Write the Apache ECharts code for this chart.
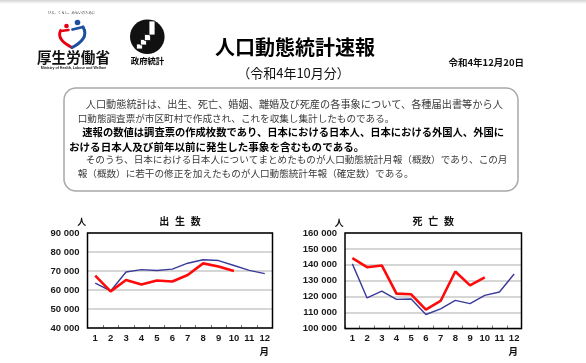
<!DOCTYPE html>
<html>
<head>
<meta charset="utf-8">
<script src="https://cdn.jsdelivr.net/npm/echarts@6/dist/echarts.min.js"></script>
<style>
html,body{margin:0;padding:0;background:#fff;}
#c{width:586px;height:363px;}
</style>
</head>
<body>
<div id="c"></div>
<script>
// ---- data ----
const months = ['1','2','3','4','5','6','7','8','9','10','11','12'];
const birthsPrev = [63600,59500,69500,70700,70300,71000,74100,75900,75500,72900,70300,68600];
const birthsCurr = [67600,59300,65300,62900,65000,64500,67900,74000,72400,70000];
const deathsPrev = [140600,119200,123500,118300,118500,108800,112300,117700,115600,120800,122900,134200];
const deathsCurr = [144200,138500,139600,121900,121500,111900,117300,135800,127100,132100];
const birthAxis = {min:40000, max:90000, interval:10000};
const deathAxis = {min:100000, max:160000, interval:10000};
const titleText = '人口動態統計速報';
const subTitleText = '（令和4年10月分）';
const dateText = '令和4年12月20日';
const introLines = [
  '人口動態統計は、出生、死亡、婚姻、離婚及び死産の各事象について、各種届出書等から人',
  '口動態調査票が市区町村で作成され、これを収集し集計したものである。',
  '速報の数値は調査票の作成枚数であり、日本における日本人、日本における外国人、外国に',
  'おける日本人及び前年以前に発生した事象を含むものである。',
  'そのうち、日本における日本人についてまとめたものが人口動態統計月報（概数）であり、この月',
  '報（概数）に若干の修正を加えたものが人口動態統計年報（確定数）である。'
];
const chartTitles = [['出','生','数'],['死','亡','数']];
const nextTitles = [['婚','姻','件','数'],['離','婚','件','数']];

// ---- layout ----
const CJK = "'Noto Sans CJK JP', sans-serif";
const NUM = "'Liberation Sans', Arial, sans-serif";
const G1 = {left:87.5, top:233, width:185, height:95};
const G2 = {left:345, top:233, width:176.5, height:95.5};
const lineStyle = [
  {x:85.7, y:104.3, size:10.2, bold:false},
  {x:77.7, y:118.3, size:9.6, bold:false},
  {x:82.3, y:132, size:10.3, bold:true},
  {x:69,   y:146.5, size:10.55, bold:true},
  {x:85.7, y:159.5, size:9.6, bold:false},
  {x:77.7, y:173.5, size:9.6, bold:false}
];

function fmt(v){ return String(v).replace(/\B(?=(\d{3})+(?!\d))/g,' '); }
function txt(x,y,text,size,opts){
  opts = opts||{};
  return {type:'text', x:x, y:y, z:opts.z||50, silent:true, style:{
    text:text, fontSize:size, fontWeight:opts.bold?'bold':'normal',
    fontFamily:opts.family||CJK, fill:opts.fill||'#000',
    align:opts.align||'center', verticalAlign:opts.va||'middle'}};
}

const graphics = [];
// top shadow band
graphics.push({type:'rect', shape:{x:0,y:0,width:586,height:4}, silent:true,
  style:{fill:new echarts.graphic.LinearGradient(0,0,0,1,[{offset:0,color:'#d4d4d4'},{offset:1,color:'#ffffff'}])}});
// MHLW logo
graphics.push(txt(71.5,12.5,'ひと、くらし、みらいのために',3.4,{fill:'#333'}));
graphics.push({type:'circle', shape:{cx:66.5,cy:26,r:2.3}, style:{fill:'#e60012'}});
graphics.push({type:'circle', shape:{cx:77.5,cy:22.5,r:2.8}, style:{fill:'#1d4fa0'}});
graphics.push({type:'bezierCurve', shape:{x1:60.5,y1:30.5,cpx1:57.5,cpy1:37,cpx2:63,cpy2:43,x2:72,y2:47.5}, style:{fill:'none', stroke:'#e60012', lineWidth:2.8, lineCap:'round'}});
graphics.push({type:'line', shape:{x1:61,y1:31,x2:68.5,y2:30}, style:{stroke:'#e60012', lineWidth:2.6, lineCap:'round'}});
graphics.push({type:'bezierCurve', shape:{x1:83,y1:27,cpx1:88.5,cpy1:36,cpx2:81,cpy2:43,x2:72,y2:47.5}, style:{fill:'none', stroke:'#1d4fa0', lineWidth:3, lineCap:'round'}});
graphics.push({type:'line', shape:{x1:72.5,y1:29.5,x2:83,y2:27}, style:{stroke:'#1d4fa0', lineWidth:2.8, lineCap:'round'}});
graphics.push(txt(73.5,57.5,'厚生労働省',14.6,{bold:true,fill:'#111'}));
graphics.push(txt(73.5,67.5,'Ministry of Health, Labour and Welfare',3.6,{bold:true,family:NUM,fill:'#222'}));
// government statistics logo
graphics.push({type:'circle', shape:{cx:147.3,cy:36.7,r:17.3}, style:{fill:'#111'}});
[[136.5,44,6,5],[140.5,39.5,6,5.5],[144.5,34.5,6,6],[149,21,6,14]].forEach(function(r){
  graphics.push({type:'rect', shape:{x:r[0],y:r[1],width:r[2],height:r[3]}, style:{fill:'#fff', stroke:'#111', lineWidth:0.8}});
});
graphics.push(txt(147.5,60.5,'政府統計',8.4,{bold:true,fill:'#000'}));
// title block
graphics.push(txt(295,47.3,titleText,20,{bold:true}));
graphics.push(txt(293.5,72.7,subTitleText,13,{fill:'#111'}));
graphics.push(txt(524,62,dateText,9.5,{bold:true,align:'right',fill:'#111'}));
// intro box
graphics.push({type:'rect', shape:{x:64,y:88,width:454,height:103,r:12}, silent:true, style:{fill:'none', stroke:'#a8a8a8', lineWidth:1.5}});
introLines.forEach(function(t,i){
  const s = lineStyle[i];
  graphics.push(txt(s.x,s.y,t,s.size,{bold:s.bold,align:'left',fill:s.bold?'#000':'#3a3a3a'}));
});
// chart titles / units
function charTitle(chars, cx, y, step){
  const n = chars.length;
  chars.forEach(function(c,i){ graphics.push(txt(cx+(i-(n-1)/2)*step, y, c, 10, {bold:true,fill:'#111'})); });
}
charTitle(chartTitles[0], G1.left+G1.width/2, 221.7, 15.8);
charTitle(chartTitles[1], G2.left+G2.width/2, 221.7, 15.8);
graphics.push(txt(81.7,221.7,'人',9,{bold:true,fill:'#111'}));
graphics.push(txt(339.3,222.3,'人',9,{bold:true,fill:'#111'}));
graphics.push(txt(G1.left+G1.width-8.2,351.7,'月',9.5,{bold:true,fill:'#111'}));
graphics.push(txt(G2.left+G2.width-8.2,351.7,'月',9.5,{bold:true,fill:'#111'}));
// next row (cut off)
charTitle(nextTitles[0], 179.5, 369.5, 13.5);
charTitle(nextTitles[1], 427.5, 369.5, 13.5);
graphics.push(txt(80,369.5,'人',9,{bold:true,fill:'#111'}));
graphics.push(txt(333,369.5,'人',9,{bold:true,fill:'#111'}));
// plot borders
[G1,G2].forEach(function(g){
  graphics.push({type:'rect', z:100, silent:true, shape:{x:g.left,y:g.top,width:g.width,height:g.height}, style:{fill:'none', stroke:'#000', lineWidth:1.5}});
});

function xAxis(gi){
  return {type:'category', gridIndex:gi, data:months, boundaryGap:true,
    axisLine:{show:false},
    axisTick:{show:true, inside:true, length:3, interval:0, lineStyle:{color:'#777', width:1}},
    axisLabel:{interval:0, margin:5, fontSize:9.5, fontWeight:'bold', fontFamily:NUM, color:'#1a1a1a'},
    splitLine:{show:false}};
}
function yAxis(gi, a){
  return {type:'value', gridIndex:gi, min:a.min, max:a.max, interval:a.interval,
    axisLine:{show:false}, axisTick:{show:false},
    axisLabel:{margin:8, fontSize:9.5, fontWeight:'bold', fontFamily:NUM, color:'#1a1a1a', formatter:fmt},
    splitLine:{show:true, lineStyle:{color:'#c8c8c8', width:1.5}}};
}
const blue = '#3a3a9a', red = '#ff0a0a';
function line(gi, data, color, w, z){
  return {type:'line', xAxisIndex:gi, yAxisIndex:gi, data:data, symbol:'none', z:z,
    lineStyle:{color:color, width:w}, silent:true, animation:false};
}

const chart = echarts.init(document.getElementById('c'), null, {renderer:'canvas'});
chart.setOption({
  animation:false,
  backgroundColor:'#fff',
  grid:[
    Object.assign({containLabel:false}, G1),
    Object.assign({containLabel:false}, G2)
  ],
  xAxis:[xAxis(0), xAxis(1)],
  yAxis:[yAxis(0,birthAxis), yAxis(1,deathAxis)],
  series:[
    line(0, birthsPrev, blue, 1.4, 3),
    line(0, birthsCurr, red, 2.6, 4),
    line(1, deathsPrev, blue, 1.4, 3),
    line(1, deathsCurr, red, 2.6, 4)
  ],
  graphic:graphics
});
</script>
</body>
</html>
